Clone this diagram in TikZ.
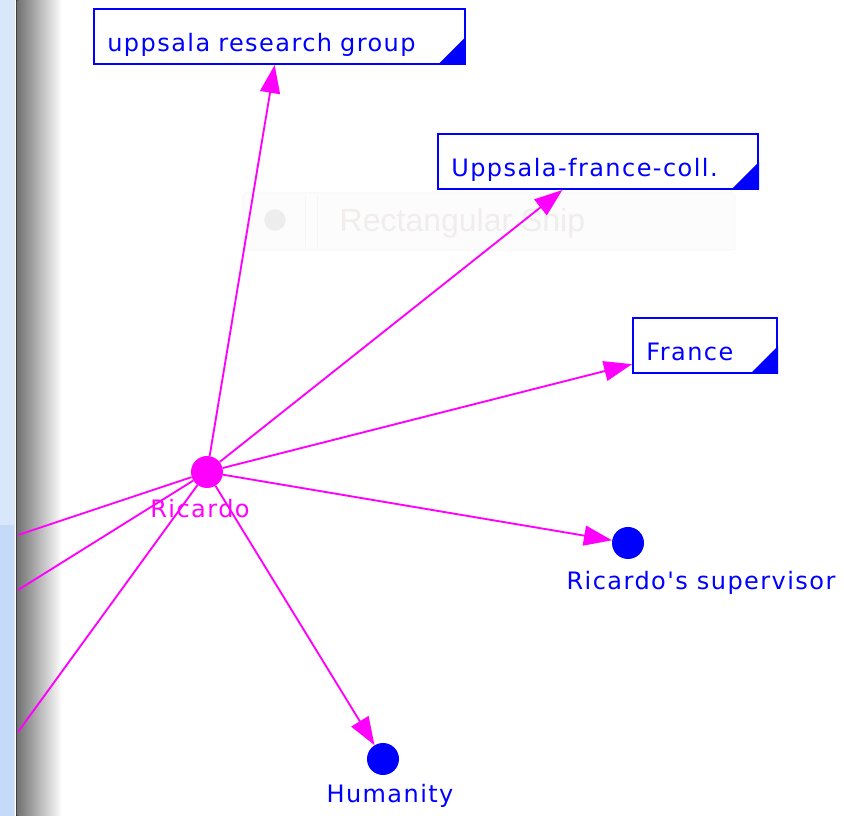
\documentclass[tikz,border=0pt]{standalone}
\usepackage{fontspec}
\setmainfont{DejaVu Sans}
\newfontfamily\netfont[LetterSpace=6]{DejaVu Sans}
\newfontfamily\tipfont{Liberation Sans}
\usetikzlibrary{arrows.meta}

\definecolor{netpink}{RGB}{255,0,255}
\definecolor{netblue}{RGB}{0,0,255}
\definecolor{winblue}{RGB}{216,231,249}
\definecolor{winbluedeep}{RGB}{196,218,248}
\definecolor{ghost}{RGB}{241,237,237}

\tikzset{
  netlabel/.style={font=\netfont\fontsize{18}{20}\selectfont, anchor=base},
  actor/.style={circle, fill=netpink, minimum size=24pt, inner sep=0pt},
  entity/.style={circle, fill=netblue, minimum size=24pt, inner sep=0pt},
  infobox/.style={draw=netblue, line width=1.5pt, fill=white, text=netblue,
    font=\netfont\fontsize{18}{20}\selectfont, anchor=south west, align=left,
    inner xsep=10pt, inner ysep=0pt, text height=32pt, text depth=9pt},
  tie/.style={netpink, line width=1.4pt, -{Triangle[length=21pt,width=15pt]}},
  loose/.style={netpink, line width=1.4pt}
}

\begin{document}
\begin{tikzpicture}[x=0.75pt,y=-0.75pt]
\useasboundingbox (0,0) rectangle (844,816);
\fill[white] (0,0) rectangle (844,816);
\draw[black!4, fill=black!1, rounded corners=2pt] (243,193) rectangle (735,250);
\draw[black!4] (305,196) -- (305,247);
\draw[black!4] (317,196) -- (317,247);
\fill[black!7] (275,220) circle (8pt);
\node[font=\tipfont\fontsize{24}{28}\selectfont, text=ghost, anchor=base west] (tiptext) at (335,232) {Rectangular Ship};
\fill[winblue] (0,0) rectangle (15,816);
\fill[winbluedeep] (0,525) rectangle (14,816);
\fill[black!75] (16,0) rectangle (17.5,816);
\shade[left color=black!55, right color=white] (17.5,0) rectangle (62,816);
\node[infobox, text width=258pt] (uppsala) at (93,65) {uppsala research group};
\node[infobox, text width=220pt] (collab) at (437,190) {Uppsala-france-coll.};
\node[infobox, text width=88pt] (france) at (632,374) {France};
\fill[netblue] (uppsala.south east) -- ++(-28,0) -- ++(28,-28) -- cycle;
\fill[netblue] (collab.south east) -- ++(-28,0) -- ++(28,-28) -- cycle;
\fill[netblue] (france.south east) -- ++(-28,0) -- ++(28,-28) -- cycle;
\node[actor] (ricardo) at (207,472) {};
\node[entity] (supervisor) at (628,543) {};
\node[entity] (humanity) at (383,759) {};
\node[netlabel, text=netpink] (ricardolabel) at (200,518) {Ricardo};
\node[netlabel, text=netblue] (supervisorlabel) at (701,590) {Ricardo's supervisor};
\node[netlabel, text=netblue] (humanitylabel) at (390,803) {Humanity};
\coordinate (westa) at (18,535);
\coordinate (westb) at (18,590);
\coordinate (westc) at (18,732);
\draw[tie] (ricardo) -- (uppsala);
\draw[tie] (ricardo) -- (collab);
\draw[tie] (ricardo) -- (france);
\draw[tie] (ricardo) -- (supervisor);
\draw[tie] (ricardo) -- (humanity);
\draw[loose] (ricardo) -- (westa);
\draw[loose] (ricardo) -- (westb);
\draw[loose] (ricardo) -- (westc);
\end{tikzpicture}
\end{document}
